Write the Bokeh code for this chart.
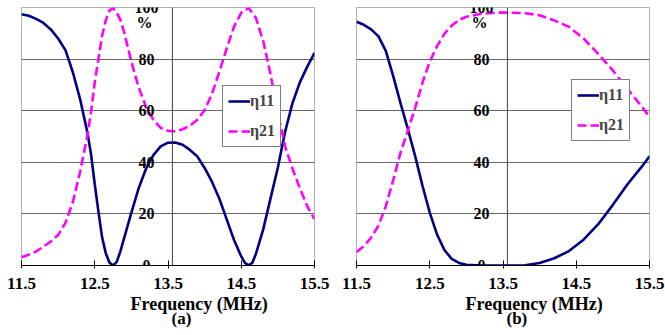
from bokeh.plotting import figure
from bokeh.layouts import row
from bokeh.models import (Span, Label, LabelSet, ColumnDataSource, FixedTicker,
                          Legend, LegendItem, Title)
from bokeh.embed import file_html
from bokeh.resources import INLINE

# ---------------- data ----------------
xticks = [11.5, 12.5, 13.5, 14.5, 15.5]
xtick_labels = ["11.5", "12.5", "13.5", "14.5", "15.5"]
yticks = [0, 20, 40, 60, 80, 100]
ytick_labels = ["0", "20", "40", "60", "80", "100"]
y_cross = 13.56

# panel (a)
a_f11 = [11.5, 11.6, 11.7, 11.8, 11.9, 12.0, 12.1, 12.2, 12.3, 12.4, 12.45, 12.5,
         12.55, 12.6, 12.65, 12.7, 12.75, 12.8, 12.85, 12.9, 12.95, 13.0, 13.1,
         13.2, 13.3, 13.4, 13.5, 13.6, 13.7, 13.8, 13.9, 14.0, 14.1, 14.2, 14.3,
         14.4, 14.5, 14.55, 14.6, 14.65, 14.7, 14.8, 14.9, 15.0, 15.1, 15.2, 15.3,
         15.4, 15.5]
a_e11 = [97.4, 96.8, 95.6, 94.0, 91.5, 88.0, 83.5, 75.0, 64.5, 51.5, 43.0, 31.5,
         21.0, 11.0, 4.8, 1.2, 0.0, 1.4, 5.5, 10.5, 15.5, 20.5, 30.0,
         37.5, 42.8, 46.2, 47.6, 47.7, 46.8, 44.8, 42.3, 37.8, 32.5, 26.0, 18.0,
         10.0, 3.5, 1.0, 0.1, 1.0, 4.5, 14.0, 26.0, 38.0, 52.0, 63.0, 71.0,
         77.0, 82.4]
a_f21 = [11.5, 11.6, 11.7, 11.8, 11.9, 12.0, 12.1, 12.2, 12.3, 12.35, 12.4, 12.45,
         12.5, 12.55, 12.6, 12.65, 12.7, 12.75, 12.8, 12.85, 12.9, 13.0, 13.1,
         13.2, 13.3, 13.4, 13.5, 13.6, 13.7, 13.8, 13.9, 14.0, 14.1, 14.2, 14.3,
         14.4, 14.5, 14.6, 14.7, 14.8, 14.9, 15.0, 15.1, 15.2, 15.3, 15.4, 15.5]
a_e21 = [3.2, 4.2, 5.5, 7.3, 9.3, 11.8, 16.5, 24.5, 36.3, 43.5, 50.3, 59.7,
         71.0, 80.0, 89.0, 95.0, 98.8, 99.8, 98.0, 95.2, 90.5, 79.0, 69.0,
         61.5, 56.5, 53.3, 52.2, 52.0, 52.8, 54.2, 56.5, 60.2, 66.5, 75.0, 84.0,
         92.5, 98.0, 99.8, 96.0, 87.0, 74.0, 59.0, 46.0, 37.5, 30.0, 23.0, 18.0]

# panel (b)
b_f11 = [11.5, 11.6, 11.7, 11.8, 11.9, 12.0, 12.1, 12.2, 12.3, 12.4, 12.5, 12.6,
         12.7, 12.8, 12.9, 13.0, 13.2, 13.5, 13.8, 14.0, 14.2, 14.4, 14.6, 14.8,
         15.0, 15.2, 15.4, 15.5]
b_e11 = [94.5, 93.3, 91.5, 88.8, 83.2, 73.5, 63.0, 53.0, 42.5, 31.0, 20.5, 12.0,
         6.0, 2.6, 1.0, 0.3, 0.0, 0.0, 0.1, 1.0, 2.8, 5.6, 10.0, 16.0,
         23.5, 31.5, 38.5, 42.3]
b_f21 = [11.5, 11.6, 11.7, 11.8, 11.9, 12.0, 12.1, 12.2, 12.3, 12.4, 12.5,
         12.6, 12.7, 12.8, 12.9, 13.0, 13.2, 13.4, 13.6, 13.8, 14.0, 14.2, 14.4,
         14.6, 14.8, 15.0, 15.2, 15.4, 15.5]
b_e21 = [5.2, 7.5, 10.8, 15.5, 23.0, 33.0, 43.6, 52.2, 61.0, 70.8, 79.0,
         85.0, 89.8, 93.0, 95.2, 96.4, 97.6, 98.0, 98.0, 97.8, 97.0, 95.0, 92.5,
         88.0, 82.0, 75.6, 68.4, 61.4, 57.6]

series_names = ["\u03b711", "\u03b721"]
xlabel = "Frequency (MHz)"

FONT = "'Liberation Serif', 'Times New Roman', serif"
NAVY = "#000080"
MAGENTA = "#ff00ff"


def make_panel(f11, e11, f21, e21, tag, width, border_left, border_right,
               legend_xy):
    p = figure(width=width, height=333, x_range=(11.5, 15.5), y_range=(0, 100),
               output_backend="svg", toolbar_location=None, y_axis_location=None,
               min_border_left=border_left, min_border_right=border_right,
               min_border_top=7, min_border_bottom=68)
    p.background_fill_color = "white"
    p.border_fill_color = "white"
    p.outline_line_color = "#b0b0b0"
    p.outline_line_width = 1

    p.xgrid.visible = False
    p.ygrid.ticker = FixedTicker(ticks=[20, 40, 60, 80])
    p.ygrid.grid_line_color = "#666666"
    p.ygrid.grid_line_width = 1

    ax = p.xaxis[0]
    ax.ticker = FixedTicker(ticks=xticks)
    ax.major_label_overrides = dict(zip(xticks, xtick_labels))
    ax.axis_line_color = "black"
    ax.major_tick_line_color = "black"
    ax.minor_tick_line_color = None
    ax.major_tick_in = 5
    ax.major_tick_out = 3
    ax.major_label_standoff = 9
    ax.major_label_text_font = FONT
    ax.major_label_text_font_style = "bold"
    ax.major_label_text_font_size = "17px"
    ax.major_label_text_color = "black"

    p.add_layout(Span(location=y_cross, dimension="height", line_color="#404040",
                      line_width=1))

    src = ColumnDataSource(dict(x=[y_cross] * len(yticks), y=yticks, t=ytick_labels))
    p.add_layout(LabelSet(x="x", y="y", text="t", source=src, x_offset=-26,
                          text_align="center", text_baseline="middle",
                          text_font=FONT, text_font_style="bold",
                          text_font_size="16px", text_color="black"))
    p.add_layout(Label(x=y_cross, y=100, x_offset=-28, y_offset=-15, text="%",
                       text_align="center", text_baseline="middle",
                       text_font=FONT, text_font_style="bold",
                       text_font_size="16px", text_color="black"))

    r1 = p.line(f11, e11, line_color=NAVY, line_width=2.6)
    r2 = p.line(f21, e21, line_color=MAGENTA, line_width=2.6, line_dash="9 4")

    leg = Legend(items=[LegendItem(label=series_names[0], renderers=[r1]),
                        LegendItem(label=series_names[1], renderers=[r2])],
                 location=legend_xy)
    leg.border_line_color = "black"
    leg.border_line_width = 1
    leg.background_fill_color = "white"
    leg.background_fill_alpha = 1
    leg.label_text_font = FONT
    leg.label_text_font_style = "bold"
    leg.label_text_font_size = "16px"
    leg.glyph_width = 22
    leg.glyph_height = 20
    leg.label_height = 20
    leg.spacing = 10
    leg.padding = 5
    leg.margin = 0
    leg.label_standoff = 0
    p.add_layout(leg)

    t1 = Title(text=xlabel, align="left", offset=109, standoff=0,
               text_font=FONT, text_font_style="bold", text_font_size="18px",
               text_color="black", text_line_height=0.9)
    p.add_layout(t1, "below")
    t2 = Title(text=tag, align="left", offset=150, standoff=-14,
               text_font=FONT, text_font_style="bold", text_font_size="17px",
               text_color="black", text_line_height=0.9)
    p.add_layout(t2, "below")
    return p


pa = make_panel(a_f11, a_e11, a_f21, a_e21, "(a)", 335, 21, 21, (201, 118))
pb = make_panel(b_f11, b_e11, b_f21, b_e21, "(b)", 330, 21, 16, (215, 124))

layout = row(pa, pb)
open("out.html", "w").write(file_html(layout, INLINE))
